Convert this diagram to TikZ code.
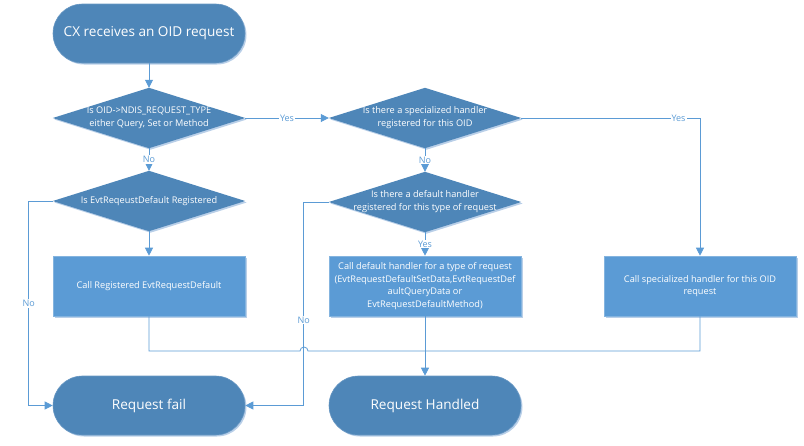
\documentclass[tikz,border=0pt]{standalone}
\usepackage{fontspec}
\setmainfont{Open Sans}
\usetikzlibrary{arrows.meta,backgrounds,shadows}
\definecolor{darkfill}{HTML}{4E86B8}
\definecolor{lightfill}{HTML}{5B9BD5}
\definecolor{wirecol}{HTML}{5B9BD5}
\definecolor{shadecol}{HTML}{B9CFE8}
\begin{document}
\begin{tikzpicture}[x=1pt,y=-1pt,
  term/.style={rectangle, rounded corners=29.5pt, fill=darkfill, draw=darkfill!85!white,
    line width=0.6pt, minimum width=192pt, minimum height=59pt, inner sep=0pt,
    text=white, font=\fontsize{13.6}{16}\selectfont,
    drop shadow={shadow xshift=1.5pt, shadow yshift=-1.5pt, fill=shadecol, opacity=1}},
  dtext/.style={rectangle, minimum width=192pt, minimum height=60pt, inner sep=0pt,
    text=white, align=center, font=\fontsize{9.2}{13}\selectfont},
  proc/.style={rectangle, fill=lightfill, draw=lightfill!75!white, line width=0.6pt,
    minimum width=192pt, minimum height=60pt, inner sep=0pt,
    text=white, align=center, font=\fontsize{9.2}{12.7}\selectfont,
    drop shadow={shadow xshift=1.5pt, shadow yshift=-1.5pt, fill=shadecol, opacity=1}},
  wire/.style={draw=wirecol, line width=0.8pt},
  tip/.style={-{Triangle[length=8pt,width=8pt]}},
  lab/.style={fill=white, text=wirecol, inner sep=1pt, font=\fontsize{9}{10}\selectfont},
]
\useasboundingbox (0,0) rectangle (804,445);

% terminators
\node[term] (start) at (149,33.5) {CX receives an OID request};
\node[term] (fail) at (149,405.5) {Request fail};
\node[term] (done) at (425,405.5) {Request Handled};

% decisions (text nodes, diamond drawn through their anchors)
\node[dtext] (d1) at (149,118) {Is OID->NDIS\_REQUEST\_TYPE\\either Query, Set or Method};
\node[dtext] (d2) at (149,201) {Is EvtReqeustDefault Registered};
\node[dtext] (d3) at (425,118) {Is there a specialized handler\\registered for this OID};
\node[dtext] (d4) at (425,202) {Is there a default handler\\registered for this type of request};

\begin{scope}[on background layer]
  \foreach \n in {d1,d2,d3,d4}{
    \fill[shadecol] ([shift={(1.5,1.5)}]\n.north) -- ([shift={(1.5,1.5)}]\n.east)
      -- ([shift={(1.5,1.5)}]\n.south) -- ([shift={(1.5,1.5)}]\n.west) -- cycle;
    \fill[darkfill] (\n.north) -- (\n.east) -- (\n.south) -- (\n.west) -- cycle;
  }
\end{scope}

% processes
\node[proc] (p1) at (149,286) {Call Registered EvtRequestDefault};
\node[proc] (p2) at (425,286) {Call default handler for a type of request\\(EvtRequestDefaultSetData,EvtRequestDef\\aultQueryData or\\EvtRequestDefaultMethod)};
\node[proc] (p3) at (700,286) {Call specialized handler for this OID\\request};

% connectors
\draw[wire,tip] (start.south) -- (d1.north);
\draw[wire,tip] (d1.east) -- node[lab]{Yes} (d3.west);
\draw[wire,tip] (d1.south) -- node[lab]{No} (d2.north);
\draw[wire,tip] (d2.west) -- ++(-24,0) |- node[lab,pos=0.25]{No} (fail.west);
\draw[wire,tip] (d2.south) -- (p1.north);
\draw[wire,tip] (d3.east) -| node[lab,pos=0.44]{Yes} (p3.north);
\draw[wire,tip] (d3.south) -- node[lab]{No} (d4.north);
\draw[wire,tip] (d4.west) -- ++(-25,0) |- node[lab,pos=0.29]{No} (fail.east);
\draw[wire,tip] (d4.south) -- node[lab]{Yes} (p2.north);
\draw[wire,tip] (p2.south) -- (done.north);
\coordinate (jump) at (304,351);
\draw[wire] (p1.south) |- ([xshift=-4pt]jump) arc[start angle=180,end angle=360,radius=4]
  -- (p3.south |- jump) -- (p3.south);
\end{tikzpicture}
\end{document}
